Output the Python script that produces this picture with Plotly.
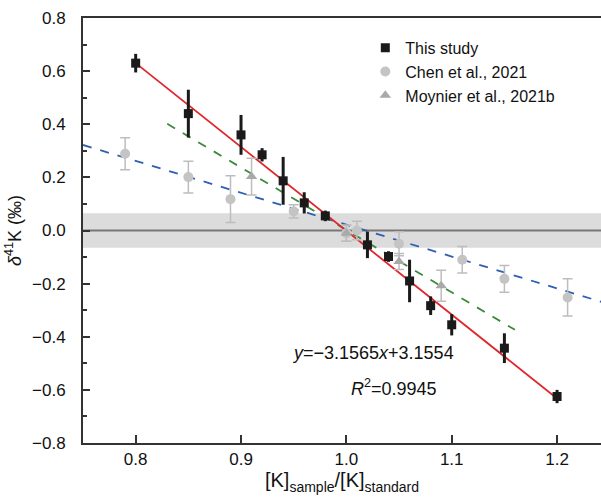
import plotly.graph_objects as go

# ---- data ----
this_x = [0.80, 0.85, 0.90, 0.92, 0.94, 0.96, 0.98, 1.02, 1.04, 1.06, 1.08, 1.10, 1.15, 1.20]
this_y = [0.63, 0.44, 0.36, 0.285, 0.187, 0.104, 0.055, -0.054, -0.098, -0.19, -0.283, -0.355, -0.443, -0.625]
this_err = [0.035, 0.09, 0.075, 0.025, 0.09, 0.04, 0.02, 0.05, 0.02, 0.08, 0.035, 0.04, 0.056, 0.025]

chen_x = [0.79, 0.85, 0.89, 0.95, 1.00, 1.01, 1.05, 1.11, 1.15, 1.21]
chen_y = [0.289, 0.201, 0.118, 0.072, -0.01, 0.0, -0.05, -0.11, -0.182, -0.252]
chen_err = [0.06, 0.06, 0.088, 0.025, 0.03, 0.035, 0.045, 0.05, 0.05, 0.07]

moy_x = [0.91, 1.00, 1.05, 1.09]
moy_y = [0.203, -0.01, -0.117, -0.208]
moy_err = [0.069, 0.03, 0.03, 0.058]

# fit lines: slope, intercept, x extent
fit_this = (-3.1565, 3.1554, [0.80, 1.20])
fit_chen = (-1.20, 1.222, [0.75, 1.25])
fit_moy = (-2.35, 2.352, [0.83, 1.16])

band_half = 0.065

x_ticks = [0.8, 0.9, 1.0, 1.1, 1.2]
x_tick_text = ["0.8", "0.9", "1.0", "1.1", "1.2"]
y_ticks = [0.8, 0.6, 0.4, 0.2, 0.0, -0.2, -0.4, -0.6, -0.8]
y_tick_text = ["0.8", "0.6", "0.4", "0.2", "0.0", "\u22120.2", "\u22120.4", "\u22120.6", "\u22120.8"]

FONT = "Liberation Sans, Arial, sans-serif"


def line_pts(fit):
    m, b, xs = fit
    return xs, [m * v + b for v in xs]


fig = go.Figure()

# fit lines
for fit, color, dash, w in [(fit_chen, "#2f5fb3", "dash", 1.8),
                            (fit_moy, "#3a8a3a", "dash", 1.8),
                            (fit_this, "#e0262b", "solid", 1.8)]:
    lx, ly = line_pts(fit)
    fig.add_trace(go.Scatter(x=lx, y=ly, mode="lines", showlegend=False,
                             line=dict(color=color, dash=dash, width=w), hoverinfo="skip"))

fig.add_trace(go.Scatter(
    x=chen_x, y=chen_y, mode="markers", name="Chen et al., 2021", legendrank=2,
    marker=dict(symbol="circle", size=10, color="#c4c4c4"),
    error_y=dict(type="data", array=chen_err, color="#bdbdbd", thickness=1.5, width=5)))

fig.add_trace(go.Scatter(
    x=moy_x, y=moy_y, mode="markers", name="Moynier et al., 2021b", legendrank=3,
    marker=dict(symbol="triangle-up", size=10, color="#a9a9a9"),
    error_y=dict(type="data", array=moy_err, color="#bdbdbd", thickness=1.5, width=5)))

fig.add_trace(go.Scatter(
    x=this_x, y=this_y, mode="markers", name="This study", legendrank=1,
    marker=dict(symbol="square", size=9, color="#1a1a1a"),
    error_y=dict(type="data", array=this_err, color="#1a1a1a", thickness=3, width=0)))

# band and zero line
fig.add_shape(type="rect", xref="paper", x0=0, x1=1, yref="y", y0=-band_half, y1=band_half,
              fillcolor="#dcdcdc", line=dict(width=0), layer="below")
fig.add_shape(type="line", xref="paper", x0=0, x1=1, yref="y", y0=0, y1=0,
              line=dict(color="#777777", width=2), layer="below")

fig.add_annotation(x=1.0256, y=-0.46, xref="x", yref="y", showarrow=False,
                   text="<i>y</i>=\u22123.1565<i>x</i>+3.1554", font=dict(size=18, color="#111"))
fig.add_annotation(x=1.0455, y=-0.592, xref="x", yref="y", showarrow=False,
                   text="<i>R</i><sup>2</sup>=0.9945", font=dict(size=18, color="#111"))

fig.update_layout(
    width=601, height=503,
    margin=dict(l=83, r=0, t=18, b=60),
    paper_bgcolor="white", plot_bgcolor="white",
    font=dict(family=FONT, size=17, color="#111"),
    legend=dict(x=0.545, y=0.97, xanchor="left", yanchor="top",
                traceorder="normal", bgcolor="rgba(0,0,0,0)",
                font=dict(size=16), itemwidth=30, tracegroupgap=0),
    xaxis=dict(range=[0.75, 1.2417], tickvals=x_ticks, ticktext=x_tick_text,
               ticks="inside", ticklen=8, tickwidth=2, tickcolor="#333",
               showline=True, linewidth=2, linecolor="#333", mirror=True,
               showgrid=False, zeroline=False,
               title=dict(text="[K]<sub>sample</sub>/[K]<sub>standard</sub>",
                          font=dict(size=20), standoff=4)),
    yaxis=dict(range=[-0.8, 0.8], tickvals=y_ticks, ticktext=y_tick_text,
               ticks="inside", ticklen=7, tickwidth=2, tickcolor="#333",
               ticklabelstandoff=12,
               minor=dict(dtick=0.1, tick0=0.1, ticks="inside", ticklen=4, tickwidth=1.5, tickcolor="#333"),
               showline=True, linewidth=2, linecolor="#333",
               showgrid=False, zeroline=False,
               title=dict(text="<i>\u03b4</i><sup>41</sup>K (\u2030)", font=dict(size=18), standoff=6)),
)

fig.write_html("out.html")
